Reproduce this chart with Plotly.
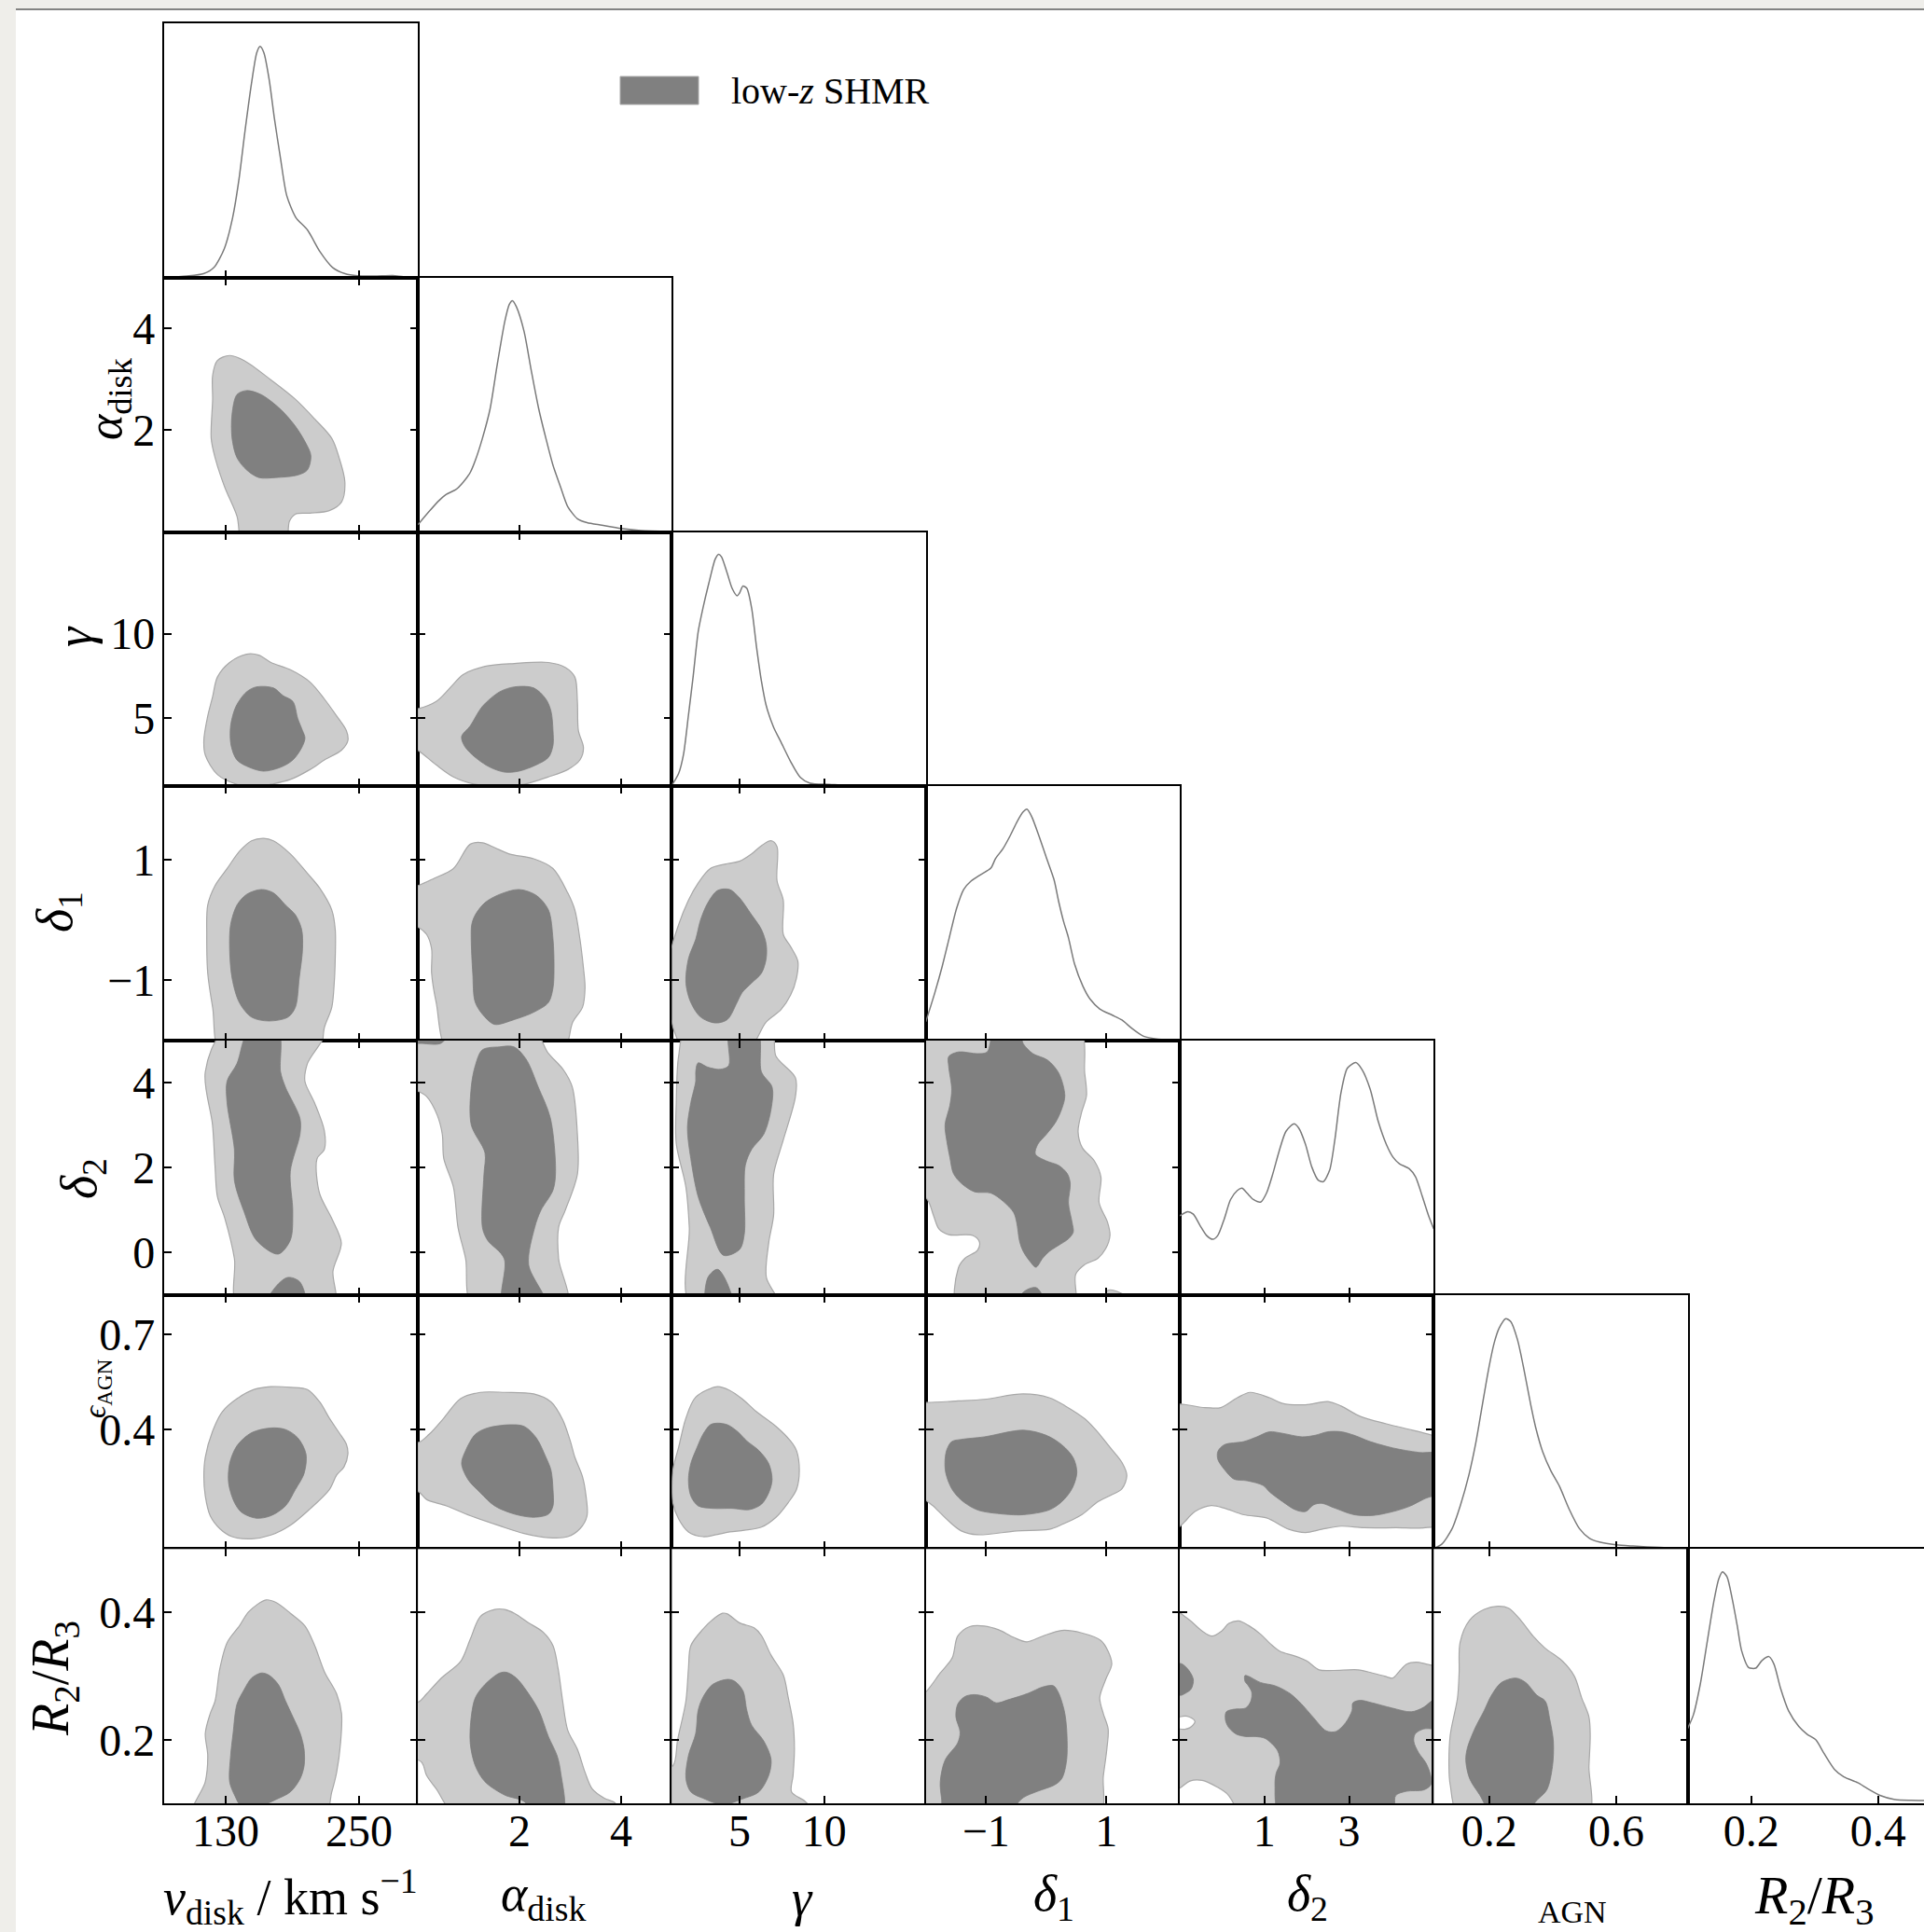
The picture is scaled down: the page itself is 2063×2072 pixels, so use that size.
import plotly.graph_objects as go

W, H = 2063, 2072
FONT = "Liberation Serif, DejaVu Serif, serif"

# ---------------- axes data ----------------
PARAMS = ["vdisk", "alpha", "gamma", "delta1", "delta2", "eps", "r23"]
RANGES = [[74.5, 303], [0, 5], [1, 16], [-2, 2.22], [-1, 5], [0.025, 0.825], [0.1, 0.5]]
XTICKS = [[130, 250], [2, 4], [5, 10], [-1, 1], [1, 3], [0.2, 0.6], [0.2, 0.4]]
YTICKS = [None, [2, 4], [5, 10], [-1, 1], [0, 2, 4], [0.4, 0.7], [0.2, 0.4]]
XLABELS = ["<i>v</i><sub>disk</sub> / km s<sup>−1</sup>", "<i>α</i><sub>disk</sub>", "<i>γ</i>",
           "<i>δ</i><sub>1</sub>", "<i>δ</i><sub>2</sub>", "AGN", "<i>R</i><sub>2</sub>/<i>R</i><sub>3</sub>"]
YLABELS = [None, "<i>α</i><sub>disk</sub>", "<i>γ</i>", "<i>δ</i><sub>1</sub>", "<i>δ</i><sub>2</sub>",
           "<i>ϵ</i><sub>AGN</sub>", "<i>R</i><sub>2</sub>/<i>R</i><sub>3</sub>"]
LEGEND_LABEL = "low-<i>z</i> SHMR"

# ---------------- 1D marginal densities (x, relative density) ----------------
kde_vdisk = [(74.5,0.001),(95.1,0.007),(110.1,0.017),(119.5,0.044),(128.8,0.125),(136.3,0.259),(141.9,0.420),
             (147.5,0.634),(153.2,0.835),(158.0,0.969),(161.0,0.996),(164.4,0.969),(169.3,0.849),(173.8,0.688),
             (179.4,0.513),(185.0,0.353),(193.2,0.259),(203.7,0.205),(215.0,0.111),(226.2,0.044),(237.4,0.017),
             (248.7,0.008),(263.7,0.007),(280.5,0.009),(289.9,0.004),(303.0,0.001)]
kde_alpha = [(0.0,0.031),(0.22,0.088),(0.41,0.134),(0.56,0.162),(0.75,0.183),(0.89,0.214),(1.03,0.256),(1.13,0.308),
             (1.27,0.403),(1.42,0.529),(1.56,0.718),(1.71,0.906),(1.80,0.980),(1.86,0.996),(1.94,0.969),(2.09,0.864),
             (2.23,0.697),(2.38,0.529),(2.52,0.403),(2.66,0.287),(2.81,0.193),(2.95,0.109),(3.14,0.057),(3.33,0.040),
             (3.62,0.029),(4.00,0.015),(4.39,0.006),(5.0,0.002)]
kde_gamma = [(1.0,0.004),(1.40,0.055),(1.69,0.138),(1.98,0.306),(2.26,0.474),(2.55,0.663),(2.84,0.768),(3.18,0.873),
             (3.56,0.978),(3.76,0.999),(3.93,0.988),(4.28,0.915),(4.56,0.852),(4.85,0.820),(4.99,0.831),(5.20,0.862),
             (5.43,0.852),(5.71,0.768),(6.00,0.600),(6.29,0.453),(6.57,0.348),(7.01,0.254),(7.44,0.191),(8.01,0.107),
             (8.59,0.038),(9.16,0.013),(10.31,0.008),(11.75,0.002),(16.0,0.0)]
kde_delta1 = [(-2.0,0.081),(-1.85,0.206),(-1.73,0.317),(-1.61,0.443),(-1.49,0.568),(-1.37,0.651),(-1.25,0.686),
              (-1.09,0.714),(-0.92,0.742),(-0.84,0.784),(-0.72,0.825),(-0.60,0.881),(-0.48,0.944),(-0.38,0.985),
              (-0.32,0.996),(-0.24,0.964),(-0.12,0.881),(0.0,0.790),(0.13,0.693),(0.21,0.596),(0.29,0.512),
              (0.37,0.443),(0.47,0.331),(0.61,0.234),(0.73,0.178),(0.89,0.136),(1.10,0.109),(1.26,0.088),
              (1.42,0.053),(1.62,0.018),(1.86,0.006),(2.22,0.001)]
kde_delta2 = [(-1.0,0.340),(-0.81,0.358),(-0.68,0.347),(-0.52,0.298),(-0.37,0.256),(-0.22,0.239),(-0.10,0.256),
              (0.05,0.326),(0.20,0.410),(0.36,0.449),(0.47,0.459),(0.59,0.438),(0.74,0.410),(0.91,0.399),
              (1.05,0.438),(1.20,0.522),(1.35,0.620),(1.51,0.704),(1.70,0.736),(1.81,0.718),(1.97,0.648),
              (2.12,0.550),(2.27,0.494),(2.39,0.487),(2.54,0.536),(2.66,0.662),(2.81,0.871),(2.96,0.976),
              (3.16,1.0),(3.31,0.969),(3.50,0.885),(3.69,0.746),(3.88,0.648),(4.04,0.592),(4.19,0.564),
              (4.42,0.543),(4.57,0.508),(4.73,0.424),(4.88,0.340),(5.0,0.284)]
kde_eps = [(0.025,0.003),(0.051,0.022),(0.083,0.088),(0.109,0.188),(0.136,0.320),(0.157,0.453),(0.178,0.619),
           (0.197,0.768),(0.215,0.885),(0.231,0.951),(0.252,0.992),(0.268,0.979),(0.289,0.901),(0.310,0.768),
           (0.331,0.619),(0.347,0.519),(0.368,0.420),(0.394,0.337),(0.421,0.271),(0.452,0.171),(0.484,0.088),
           (0.516,0.046),(0.547,0.030),(0.600,0.018),(0.653,0.013),(0.737,0.007),(0.825,0.003)]
kde_r23 = [(0.100,0.323),(0.109,0.381),(0.120,0.515),(0.130,0.682),(0.141,0.866),(0.149,0.967),(0.155,0.997),
           (0.162,0.975),(0.170,0.883),(0.178,0.766),(0.185,0.657),(0.196,0.585),(0.207,0.582),(0.217,0.615),
           (0.228,0.632),(0.236,0.599),(0.246,0.498),(0.259,0.398),(0.275,0.331),(0.288,0.298),(0.302,0.273),
           (0.315,0.214),(0.331,0.147),(0.346,0.114),(0.368,0.089),(0.383,0.064),(0.404,0.033),(0.425,0.017),
           (0.452,0.013),(0.472,0.012),(0.5,0.010)]
KDES = [kde_vdisk, kde_alpha, kde_gamma, kde_delta1, kde_delta2, kde_eps, kde_r23]
KDE_TOP = 1.095

# ---------------- 2D credible-region outlines (x, y) ----------------
# row alpha
a_v_95 = [(122.6,3.37),(133.6,3.47),(146.7,3.37),(170.8,2.99),(192.7,2.61),(210.2,2.22),(225.5,1.84),(232.1,1.46),
          (237.3,0.98),(234.3,0.59),(223.3,0.42),(205.8,0.37),(192.7,0.35),(187.4,0.21),(183.0,-0.36),(146.7,-0.36),
          (140.2,0.31),(129.2,0.88),(120.5,1.46),(117.0,1.84),(118.3,2.61),(118.3,3.08)]
a_v_68 = [(140.2,2.70),(148.9,2.78),(162.0,2.70),(179.5,2.41),(192.7,2.08),(202.3,1.74),(206.7,1.50),(203.6,1.22),
          (194.9,1.12),(175.2,1.07),(159.9,1.07),(148.9,1.22),(140.2,1.46),(135.8,1.84),(135.8,2.32)]
# row gamma
g_v_95 = [(133.6,8.30),(148.9,8.79),(159.9,8.73),(170.8,8.30),(188.3,7.87),(205.8,7.15),(218.9,6.14),(229.9,5.14),
          (238.6,4.28),(240.0,3.70),(234.3,3.13),(218.9,2.55),(205.8,1.98),(188.3,1.40),(170.8,1.11),(157.7,0.97),
          (140.2,1.11),(122.6,1.69),(111.7,2.84),(110.4,3.70),(113.9,5.14),(118.3,6.29),(122.6,7.44)]
g_v_68 = [(148.9,6.57),(157.7,6.86),(173.0,6.80),(181.7,6.34),(190.5,6.00),(194.9,4.99),(199.2,4.28),(201.4,3.84),
          (198.4,3.27),(190.5,2.55),(179.5,2.12),(164.2,1.89),(151.1,2.12),(140.2,2.55),(134.9,3.41),(134.5,4.56),
          (139.3,5.71)]
g_a_95 = [(-0.31,5.48),(0.0,5.57),(0.36,6.00),(0.65,6.86),(0.89,7.58),(1.32,8.07),(1.90,8.24),(2.57,8.30),(2.90,8.01),
          (3.09,7.44),(3.14,6.00),(3.16,4.28),(3.26,3.27),(3.19,2.55),(2.95,1.98),(2.57,1.55),(2.09,1.11),(1.71,0.97),
          (1.13,1.11),(0.70,1.55),(0.36,2.26),(0.0,3.13),(-0.31,3.70)]
g_a_68 = [(0.86,3.93),(1.03,4.56),(1.27,5.71),(1.61,6.57),(1.90,6.86),(2.28,6.80),(2.52,6.14),(2.62,5.43),(2.66,4.28),
          (2.66,3.41),(2.57,2.70),(2.33,2.26),(1.99,1.89),(1.71,1.83),(1.42,2.12),(1.13,2.70),(0.92,3.36)]
# row delta1
d1_v_95 = [(164.2,1.355),(173.0,1.315),(188.3,1.096),(203.6,0.773),(214.6,0.530),(225.5,0.167),(228.6,-0.157),
           (228.6,-0.642),(227.7,-1.046),(225.5,-1.450),(219.0,-1.773),(212.4,-2.26),(127.0,-2.26),(118.3,-1.450),
           (113.9,-0.884),(113.0,-0.237),(113.9,0.247),(120.5,0.571),(131.4,0.854),(142.3,1.137),(153.3,1.315)]
d1_v_68 = [(162.0,0.506),(173.0,0.450),(183.9,0.247),(192.7,0.086),(198.4,-0.157),(199.2,-0.480),(196.2,-0.965),
           (192.7,-1.450),(186.1,-1.612),(168.6,-1.676),(153.3,-1.612),(142.3,-1.369),(135.8,-0.965),(133.6,-0.480),
           (134.5,-0.076),(140.2,0.247),(148.9,0.425)]
d1_a_95 = [(-0.40,0.489),(0.0,0.571),(0.32,0.692),(0.70,0.854),(1.03,1.258),(1.27,1.282),(1.51,1.201),(1.80,1.096),
           (2.28,1.016),(2.66,0.854),(2.95,0.450),(3.09,0.167),(3.19,-0.318),(3.26,-0.803),(3.29,-1.127),(3.24,-1.450),
           (3.05,-1.693),(2.81,-2.26),(0.65,-2.26),(0.36,-1.369),(0.27,-0.884),(0.27,-0.480),(0.17,-0.237),
           (0.0,-0.116),(-0.40,0.005)]
d1_a_68 = [(1.13,0.086),(1.32,0.288),(1.61,0.425),(1.99,0.506),(2.33,0.409),(2.57,0.167),(2.66,-0.318),(2.68,-0.803),
           (2.66,-1.127),(2.57,-1.369),(2.28,-1.531),(1.90,-1.652),(1.51,-1.733),(1.32,-1.612),(1.13,-1.369),
           (1.08,-0.884),(1.05,-0.318),(1.06,-0.076)]
d1_g_95 = [(6.86,1.315),(7.21,1.218),(7.21,0.652),(7.58,0.328),(7.58,-0.237),(8.01,-0.440),(8.44,-0.682),(8.36,-0.965),
           (8.01,-1.248),(7.44,-1.490),(6.57,-1.693),(5.43,-2.18),(1.98,-2.26),(1.26,-1.935),(0.83,-1.450),
           (0.83,-0.642),(1.40,-0.076),(1.98,0.328),(2.55,0.611),(3.27,0.854),(4.28,0.935),(5.0,0.975),(5.71,1.096),
           (6.29,1.234)]
d1_g_68 = [(3.70,0.490),(4.42,0.506),(4.99,0.369),(5.71,0.086),(6.29,-0.157),(6.57,-0.399),(6.57,-0.642),(6.29,-0.884),
           (5.71,-1.046),(5.14,-1.208),(4.85,-1.369),(4.28,-1.652),(3.56,-1.709),(2.70,-1.612),(2.12,-1.369),
           (1.83,-1.046),(1.98,-0.642),(2.41,-0.318),(2.70,0.005),(3.13,0.288)]
# row delta2
d2_v_95 = [(129.2,5.22),(111.7,4.26),(118.2,3.01),(120.4,2.06),(122.6,1.32),(129.2,0.81),(137.9,-0.15),(141.0,-1.25),
           (227.5,-1.25),(226.6,-0.44),(234.1,0.22),(225.3,0.81),(214.4,1.40),(212.2,2.21),(218.8,2.43),(218.8,2.87),
           (210.0,3.53),(201.3,4.04),(203.5,4.45),(218.8,5.22)]
d2_v_68 = [(151.0,5.22),(140.1,4.45),(131.3,4.04),(131.3,3.53),(137.9,2.43),(137.9,1.69),(146.6,0.96),(157.6,0.29),
           (177.2,-0.04),(188.2,0.29),(190.4,0.96),(188.2,1.91),(196.9,2.79),(196.9,3.16),(183.8,3.90),(179.4,4.26),
           (177.2,5.22)]
d2_v_68b = [(166.3,-1.25),(175.1,-0.81),(186.0,-0.59),(196.9,-0.70),(201.3,-1.25)]
d2_a_95 = [(-0.50,5.22),(-0.31,4.04),(0.17,3.68),(0.38,3.24),(0.48,2.79),(0.51,2.21),(0.70,1.54),(0.79,0.59),
           (0.94,-0.15),(1.08,-1.25),(2.93,-1.25),(2.77,-0.15),(2.77,0.59),(2.90,0.99),(3.14,1.84),(3.14,2.79),
           (3.04,3.90),(2.87,4.30),(2.56,4.71),(2.28,5.22)]
d2_a_68 = [(1.61,4.85),(1.27,4.78),(1.13,4.41),(1.05,3.90),(1.05,3.01),(1.32,2.35),(1.30,1.84),(1.27,0.59),(1.37,0.29),
           (1.70,-0.15),(1.68,-1.25),(2.52,-1.25),(2.18,-0.29),(2.30,0.59),(2.42,0.99),(2.66,1.47),(2.71,1.91),
           (2.61,3.16),(2.37,3.90),(2.13,4.56),(1.89,4.85)]
d2_a_68b = [(-0.21,5.29),(0.65,5.29),(0.46,4.94),(0.08,4.93),(-0.21,4.96)]
d2_g_95 = [(1.83,5.22),(1.40,4.63),(1.26,3.53),(1.26,2.57),(1.83,1.54),(2.03,0.59),(2.12,-1.25),(7.29,-1.25),
           (6.58,-0.59),(6.72,0.22),(7.01,0.88),(7.01,1.84),(7.58,2.65),(8.30,3.68),(8.30,4.12),(7.15,4.63),(6.86,5.22)]
d2_g_68 = [(4.42,5.22),(4.36,4.41),(3.85,4.32),(3.13,4.37),(2.55,4.47),(2.41,4.26),(2.41,4.04),(2.12,3.53),(1.92,2.94),
           (2.12,2.21),(2.55,1.32),(3.27,0.59),(4.05,-0.07),(5.00,0.07),(5.28,0.44),(5.28,1.32),(5.34,2.06),(5.71,2.43),
           (6.43,2.79),(6.86,3.38),(6.92,3.90),(6.29,4.26),(6.06,5.22)]
d2_g_68b = [(3.07,-1.25),(3.13,-0.59),(3.70,-0.40),(4.28,-0.74),(4.56,-1.25)]
d2_d1_95 = [(-2.22,5.31),(0.53,5.31),(0.64,4.23),(0.67,3.70),(0.59,3.31),(0.53,2.85),(0.60,2.47),(0.80,2.16),
            (0.91,1.78),(0.88,1.17),(1.02,0.71),(1.06,0.40),(0.99,0.09),(0.86,-0.14),(0.64,-0.29),(0.49,-0.52),
            (0.45,-1.36),(-1.46,-1.36),(-1.46,-0.37),(-1.35,-0.14),(-1.14,0.05),(-1.11,0.25),(-1.22,0.40),
            (-1.62,0.42),(-1.78,0.55),(-1.87,0.86),(-1.97,1.24),(-2.22,1.55)]
d2_d1_95b = [(0.99,-1.36),(1.02,-0.90),(1.18,-0.92),(1.32,-1.06),(1.32,-1.36)]
d2_d1_68 = [(-1.62,4.39),(-1.62,4.62),(-1.46,4.73),(-1.14,4.69),(-0.98,4.73),(-0.87,5.15),(-0.44,5.15),(-0.38,4.92),
            (-0.22,4.69),(0.02,4.54),(0.21,4.23),(0.31,3.70),(0.26,3.39),(0.16,3.08),(0.00,2.78),(-0.14,2.55),
            (-0.18,2.32),(0.00,2.16),(0.21,2.05),(0.35,1.86),(0.40,1.63),(0.37,1.17),(0.43,0.71),(0.45,0.48),
            (0.37,0.32),(0.21,0.17),(0.05,0.02),(-0.06,-0.14),(-0.17,-0.35),(-0.27,-0.21),(-0.38,0.02),(-0.44,0.25),
            (-0.49,0.71),(-0.54,0.94),(-0.71,1.20),(-0.92,1.40),(-1.19,1.43),(-1.41,1.63),(-1.54,1.86),(-1.60,2.24),
            (-1.65,2.62),(-1.68,3.01),(-1.60,3.47),(-1.57,3.85)]
d2_d1_68b = [(-0.49,-1.36),(-0.38,-0.94),(-0.17,-0.83),(-0.05,-1.06),(-0.03,-1.36)]
# row eps
e_v_95 = [(170.8,0.536),(188.3,0.534),(203.6,0.527),(214.6,0.488),(223.3,0.437),(232.1,0.391),(238.6,0.355),
          (240.0,0.324),(236.4,0.283),(229.9,0.258),(223.3,0.212),(205.8,0.151),(188.3,0.100),(170.8,0.069),
          (153.3,0.057),(135.8,0.064),(124.8,0.089),(116.1,0.130),(111.7,0.192),(110.4,0.253),(111.7,0.314),
          (118.3,0.396),(127.0,0.457),(140.2,0.498),(155.5,0.527)]
e_v_68 = [(170.8,0.406),(183.9,0.401),(194.9,0.375),(202.3,0.324),(200.6,0.263),(192.7,0.212),(183.9,0.161),
          (170.8,0.130),(157.7,0.122),(144.5,0.140),(138.0,0.171),(132.7,0.232),(133.6,0.294),(140.2,0.350),
          (153.3,0.391)]
e_a_95 = [(-0.31,0.375),(0.0,0.360),(0.22,0.386),(0.51,0.437),(0.84,0.498),(1.23,0.518),(1.71,0.518),(2.28,0.513),
          (2.62,0.488),(2.85,0.432),(3.00,0.365),(3.09,0.314),(3.24,0.253),(3.31,0.192),(3.33,0.130),(3.19,0.089),
          (2.95,0.064),(2.57,0.061),(2.09,0.074),(1.61,0.098),(1.03,0.130),(0.56,0.161),(0.17,0.181),(0.0,0.207),
          (-0.31,0.212)]
e_a_68 = [(1.13,0.386),(1.37,0.406),(1.80,0.416),(2.09,0.411),(2.33,0.375),(2.52,0.314),(2.62,0.273),(2.66,0.212),
          (2.66,0.161),(2.57,0.135),(2.28,0.125),(1.90,0.135),(1.51,0.161),(1.23,0.202),(0.99,0.243),(0.86,0.294),
          (0.94,0.335)]
e_g_95 = [(3.70,0.536),(4.42,0.524),(5.14,0.498),(6.00,0.457),(7.15,0.411),(8.01,0.365),(8.36,0.335),(8.53,0.273),
          (8.36,0.212),(7.87,0.171),(7.15,0.125),(6.29,0.094),(5.28,0.084),(4.42,0.079),(3.70,0.071),(2.84,0.064),
          (1.98,0.079),(1.40,0.120),(1.06,0.171),(1.06,0.273),(1.40,0.345),(1.83,0.437),(2.41,0.503)]
e_g_68 = [(3.70,0.421),(4.28,0.416),(4.85,0.396),(5.43,0.365),(6.14,0.335),(6.72,0.294),(6.92,0.243),(6.72,0.202),
          (6.29,0.166),(5.57,0.149),(4.56,0.153),(3.41,0.153),(2.55,0.161),(2.12,0.192),(1.98,0.243),(2.12,0.294),
          (2.49,0.345),(2.84,0.386),(3.27,0.416)]
e_d1_95 = [(-1.97,0.486),(-1.46,0.491),(-1.03,0.496),(-0.38,0.513),(0.05,0.501),(0.32,0.475),(0.64,0.435),
           (0.83,0.399),(1.07,0.343),(1.26,0.297),(1.34,0.256),(1.26,0.215),(1.07,0.194),(0.86,0.174),(0.59,0.133),
           (0.26,0.102),(0.05,0.087),(-0.49,0.082),(-1.14,0.070),(-1.41,0.082),(-1.62,0.113),(-1.84,0.154),
           (-2.16,0.215),(-2.16,0.486)]
e_d1_68 = [(-1.68,0.307),(-1.65,0.338),(-1.57,0.363),(-1.41,0.370),(-1.03,0.378),(-0.38,0.399),(0.00,0.383),
           (0.26,0.353),(0.45,0.312),(0.51,0.266),(0.43,0.215),(0.26,0.174),(0.05,0.148),(-0.38,0.133),(-0.71,0.135),
           (-1.14,0.148),(-1.41,0.179),(-1.57,0.215),(-1.67,0.266)]
e_d2_95 = [(-1.25,0.472),(-0.41,0.470),(-0.03,0.470),(0.36,0.501),(0.66,0.518),(1.12,0.501),(1.43,0.483),(1.97,0.479),
           (2.50,0.489),(2.81,0.475),(3.27,0.442),(3.88,0.419),(4.50,0.399),(4.96,0.383),(5.42,0.358),(5.42,0.113),
           (4.80,0.092),(4.11,0.092),(3.35,0.092),(2.81,0.097),(2.35,0.087),(1.97,0.077),(1.58,0.087),(1.05,0.123),
           (0.51,0.133),(0.05,0.154),(-0.26,0.162),(-0.64,0.143),(-0.95,0.102),(-1.25,0.072)]
e_d2_68 = [(-0.10,0.332),(0.05,0.353),(0.51,0.363),(0.82,0.378),(1.12,0.394),(1.43,0.389),(1.89,0.378),(2.20,0.383),
           (2.50,0.394),(2.81,0.394),(3.12,0.383),(3.50,0.363),(4.04,0.343),(4.65,0.329),(5.42,0.322),(5.42,0.217),
           (4.80,0.184),(4.42,0.159),(4.04,0.143),(3.58,0.131),(3.12,0.133),(2.66,0.154),(2.35,0.169),(2.16,0.164),
           (1.97,0.143),(1.74,0.148),(1.43,0.174),(1.12,0.205),(0.97,0.225),(0.59,0.240),(0.28,0.245),(0.05,0.276),
           (-0.10,0.307)]
# row R2/R3
r_v_95 = [(166.4,0.420),(175.2,0.416),(188.3,0.399),(201.4,0.379),(210.2,0.348),(218.9,0.307),(229.9,0.272),
          (234.3,0.241),(233.4,0.195),(229.9,0.149),(225.5,0.118),(218.9,0.083),(100.8,0.083),(111.7,0.134),
          (113.9,0.175),(111.7,0.210),(116.1,0.241),(120.5,0.261),(124.8,0.312),(131.4,0.353),(142.3,0.379),
          (151.1,0.402)]
r_v_68 = [(162.0,0.305),(168.6,0.302),(177.4,0.287),(183.9,0.261),(190.5,0.236),(197.1,0.210),(200.6,0.185),
          (200.6,0.159),(197.1,0.139),(188.3,0.118),(175.2,0.106),(159.9,0.095),(144.5,0.095),(138.0,0.113),
          (133.6,0.134),(134.5,0.175),(136.7,0.210),(140.2,0.256),(146.7,0.279),(153.3,0.297)]
r_a_95 = [(-0.31,0.261),(0.0,0.259),(0.17,0.272),(0.46,0.297),(0.84,0.323),(1.03,0.358),(1.23,0.394),(1.51,0.405),
          (1.71,0.405),(1.90,0.399),(2.18,0.384),(2.47,0.369),(2.66,0.348),(2.76,0.312),(2.85,0.261),(2.95,0.215),
          (3.14,0.185),(3.29,0.149),(3.43,0.123),(3.67,0.108),(3.89,0.100),(3.91,0.083),(0.75,0.083),(0.36,0.123),
          (0.17,0.144),(0.08,0.164),(-0.31,0.185)]
r_a_68 = [(1.61,0.305),(1.75,0.306),(1.94,0.297),(2.14,0.277),(2.38,0.246),(2.57,0.205),(2.74,0.175),(2.81,0.149),
          (2.85,0.083),(2.28,0.083),(2.09,0.103),(1.71,0.113),(1.32,0.134),(1.13,0.159),(1.03,0.195),(1.05,0.236),
          (1.13,0.266),(1.32,0.287)]
r_g_95 = [(3.99,0.399),(4.28,0.398),(4.99,0.384),(5.86,0.376),(6.29,0.364),(6.86,0.333),(7.58,0.302),(7.87,0.267),
          (8.16,0.226),(8.24,0.185),(8.16,0.144),(8.07,0.118),(8.87,0.103),(9.45,0.083),(-0.03,0.083),(-0.03,0.149),
          (1.06,0.159),(1.34,0.200),(1.83,0.261),(1.98,0.312),(2.12,0.348),(2.84,0.374),(3.41,0.389)]
r_g_68 = [(4.28,0.295),(4.71,0.292),(5.20,0.277),(5.43,0.246),(5.71,0.223),(6.43,0.198),(6.86,0.169),(6.72,0.144),
          (6.14,0.118),(5.28,0.108),(3.99,0.098),(2.84,0.108),(2.12,0.118),(1.83,0.139),(1.98,0.175),(2.41,0.210),
          (2.55,0.246),(2.84,0.267),(3.41,0.287)]
r_d1_95 = [(-2.24,0.256),(-2.0,0.275),(-1.76,0.305),(-1.56,0.329),(-1.47,0.363),(-1.27,0.378),(-1.03,0.379),
           (-0.79,0.373),(-0.54,0.361),(-0.32,0.354),(-0.06,0.363),(0.26,0.372),(0.59,0.368),(0.91,0.356),(1.03,0.339),
           (1.09,0.319),(0.99,0.295),(0.89,0.266),(0.95,0.241),(1.03,0.217),(1.01,0.187),(0.95,0.143),(0.87,0.080),
           (-2.24,0.080)]
r_d1_68 = [(-1.68,0.080),(-1.74,0.109),(-1.76,0.134),(-1.68,0.168),(-1.47,0.195),(-1.43,0.212),(-1.50,0.236),
           (-1.47,0.256),(-1.35,0.268),(-1.19,0.271),(-0.99,0.267),(-0.83,0.258),(-0.63,0.263),(-0.30,0.273),
           (-0.06,0.283),(0.12,0.285),(0.20,0.275),(0.30,0.246),(0.34,0.217),(0.34,0.168),(0.26,0.139),(0.14,0.129),
           (-0.14,0.119),(-0.38,0.109),(-0.71,0.080)]
r_d2_95 = [(-1.51,0.427),(-1.0,0.400),(-0.76,0.388),(-0.47,0.371),(-0.24,0.363),(-0.01,0.371),(0.16,0.383),
           (0.39,0.387),(0.62,0.380),(0.91,0.366),(1.14,0.351),(1.37,0.339),(1.71,0.332),(2.00,0.324),(2.29,0.310),
           (2.63,0.309),(3.21,0.310),(3.55,0.305),(3.84,0.300),(4.03,0.297),(4.18,0.307),(4.36,0.319),(4.59,0.322),
           (4.82,0.319),(5.39,0.305),(5.39,0.080),(-1.51,0.080)]
r_d2_gap1 = [(-1.28,0.227),(-1.0,0.236),(-0.82,0.237),(-0.64,0.229),(-0.76,0.219),(-1.0,0.217)]
r_d2_gap2 = [(-1.28,0.119),(-1.0,0.124),(-0.76,0.135),(-0.47,0.136),(-0.13,0.126),(0.16,0.112),(0.33,0.080),
             (-1.28,0.080)]
r_d2_68 = [(0.54,0.301),(0.62,0.300),(0.91,0.290),(1.25,0.285),(1.60,0.273),(1.88,0.256),(2.17,0.234),(2.46,0.214),
           (2.69,0.213),(2.92,0.227),(3.07,0.246),(3.09,0.258),(3.26,0.262),(3.55,0.258),(4.01,0.250),(4.47,0.244),
           (4.76,0.251),(5.0,0.263),(5.39,0.270),(5.39,0.214),(5.0,0.217),(4.76,0.217),(4.56,0.209),(4.53,0.197),
           (4.64,0.180),(4.82,0.163),(4.93,0.143),(4.93,0.129),(4.76,0.121),(4.36,0.119),(4.10,0.112),(4.03,0.080),
           (1.39,0.080),(1.25,0.129),(1.28,0.148),(1.37,0.163),(1.31,0.183),(1.02,0.202),(0.79,0.205),(0.56,0.205),
           (0.33,0.209),(0.16,0.219),(0.08,0.231),(0.10,0.244),(0.28,0.248),(0.56,0.250),(0.68,0.261),(0.70,0.275),
           (0.62,0.285),(0.54,0.292)]
r_d2_68b = [(-1.28,0.295),(-1.0,0.320),(-0.82,0.312),(-0.68,0.295),(-0.73,0.280),(-0.87,0.273),(-1.0,0.270)]
r_e_95 = [(0.227,0.410),(0.261,0.407),(0.299,0.388),(0.338,0.363),(0.376,0.344),(0.430,0.324),(0.468,0.300),
          (0.491,0.266),(0.514,0.236),(0.518,0.207),(0.514,0.158),(0.509,0.080),(0.108,0.080),(0.077,0.129),
          (0.073,0.158),(0.077,0.207),(0.100,0.266),(0.105,0.305),(0.108,0.353),(0.138,0.388),(0.184,0.405)]
r_e_68 = [(0.284,0.297),(0.315,0.290),(0.350,0.270),(0.376,0.261),(0.391,0.231),(0.402,0.197),(0.399,0.158),
          (0.381,0.121),(0.345,0.102),(0.322,0.080),(0.215,0.080),(0.169,0.114),(0.138,0.139),(0.126,0.168),
          (0.131,0.187),(0.154,0.217),(0.184,0.246),(0.207,0.270),(0.238,0.290)]

# (row, col) -> list of (outline, level); level "95" light, "68" dark, "gap" empty
PANELS = {
    (1, 0): [(a_v_95, "95"), (a_v_68, "68")],
    (2, 0): [(g_v_95, "95"), (g_v_68, "68")],
    (2, 1): [(g_a_95, "95"), (g_a_68, "68")],
    (3, 0): [(d1_v_95, "95"), (d1_v_68, "68")],
    (3, 1): [(d1_a_95, "95"), (d1_a_68, "68")],
    (3, 2): [(d1_g_95, "95"), (d1_g_68, "68")],
    (4, 0): [(d2_v_95, "95"), (d2_v_68, "68"), (d2_v_68b, "68")],
    (4, 1): [(d2_a_95, "95"), (d2_a_68, "68"), (d2_a_68b, "68")],
    (4, 2): [(d2_g_95, "95"), (d2_g_68, "68"), (d2_g_68b, "68")],
    (4, 3): [(d2_d1_95, "95"), (d2_d1_95b, "95"), (d2_d1_68, "68"), (d2_d1_68b, "68")],
    (5, 0): [(e_v_95, "95"), (e_v_68, "68")],
    (5, 1): [(e_a_95, "95"), (e_a_68, "68")],
    (5, 2): [(e_g_95, "95"), (e_g_68, "68")],
    (5, 3): [(e_d1_95, "95"), (e_d1_68, "68")],
    (5, 4): [(e_d2_95, "95"), (e_d2_68, "68")],
    (6, 0): [(r_v_95, "95"), (r_v_68, "68")],
    (6, 1): [(r_a_95, "95"), (r_a_68, "68")],
    (6, 2): [(r_g_95, "95"), (r_g_68, "68")],
    (6, 3): [(r_d1_95, "95"), (r_d1_68, "68")],
    (6, 4): [(r_d2_95, "95"), (r_d2_gap1, "gap"), (r_d2_gap2, "gap"), (r_d2_68, "68"), (r_d2_68b, "68")],
    (6, 5): [(r_e_95, "95"), (r_e_68, "68")],
}

# ---------------- styling / geometry ----------------
COL_X0, COL_W = 175.8, 272.3
ROW_Y0, ROW_H = 25.1, 272.7
STYLE = {"95": ("#cccccc", "#a8a8a8", 1.2), "68": ("#808080", "#7d7d7d", 0.8), "gap": ("white", "#a8a8a8", 1.2)}
PAGE_BG = "#efeeea"

fig = go.Figure()
layout = dict(width=W, height=H, margin=dict(l=0, r=0, t=0, b=0, pad=0), autosize=False,
              paper_bgcolor=PAGE_BG, plot_bgcolor="white", showlegend=False,
              font=dict(family=FONT, color="black"))

base_axis = dict(showline=True, linecolor="black", linewidth=2, ticks="inside", ticklen=8, tickwidth=2,
                 tickcolor="black", showgrid=False, zeroline=False,
                 tickfont=dict(family=FONT, size=48, color="black"))

k = 0
for i in range(7):
    for j in range(i + 1):
        k += 1
        xa, ya = ("xaxis", "yaxis") if k == 1 else (f"xaxis{k}", f"yaxis{k}")
        xr, yr = ("x", "y") if k == 1 else (f"x{k}", f"y{k}")
        left = COL_X0 + j * COL_W
        right = left + COL_W
        top = ROW_Y0 + i * ROW_H
        bot = top + ROW_H
        xrng = list(RANGES[j])
        if right > W:
            xrng[1] = xrng[0] + (xrng[1] - xrng[0]) * (W - left) / COL_W
            right = W
        xd = [left / W, right / W]
        yd = [1 - bot / H, 1 - top / H]
        xax = dict(base_axis, domain=xd, range=xrng, anchor=yr, tickvals=XTICKS[j],
                   showticklabels=(i == 6), ticklabelstandoff=-14)
        if i == j:
            xax["mirror"] = True
            yax = dict(showline=True, linecolor="black", linewidth=2, mirror=(j != 6), ticks="",
                       showticklabels=False, showgrid=False, zeroline=False,
                       domain=yd, range=[0, KDE_TOP], anchor=xr)
            pts = KDES[i]
            fig.add_trace(go.Scatter(x=[p[0] for p in pts], y=[p[1] for p in pts], mode="lines",
                                     line=dict(color="#7a7a7a", width=1.5, shape="spline", smoothing=0.7),
                                     xaxis=xr, yaxis=yr, hoverinfo="skip"))
        else:
            xax["mirror"] = "ticks"
            yax = dict(base_axis, domain=yd, range=RANGES[i], anchor=xr, tickvals=YTICKS[i],
                       showticklabels=(j == 0), mirror="ticks", ticklabelstandoff=-2)
            for pts, lvl in PANELS.get((i, j), []):
                fc, lc, lw = STYLE[lvl]
                xs = [p[0] for p in pts] + [pts[0][0]]
                ys = [p[1] for p in pts] + [pts[0][1]]
                fig.add_trace(go.Scatter(x=xs, y=ys, mode="lines", fill="toself", fillcolor=fc,
                                         line=dict(color=lc, width=lw, shape="spline", smoothing=0.9),
                                         xaxis=xr, yaxis=yr, hoverinfo="skip"))
        layout[xa] = xax
        layout[ya] = yax

# ---------------- labels ----------------
def px(xp):
    return xp / W

def py(yp):
    return 1 - yp / H

XLAB_POS = [(311, 2034), (582, 2034), (860, 2036), (1130, 2034), (1402, 2034), (1686, 2050), (1945, 2036)]
XLAB_SIZE = [54, 54, 54, 54, 54, 34, 58]
YLAB_POS = [None, (116, 428), (80, 683), (62, 978), (88, 1264), (104, 1489), (58, 1800)]
YLAB_SIZE = [None, 52, 54, 54, 54, 33, 56]

annotations = []
for lab, pos, sz in zip(XLABELS, XLAB_POS, XLAB_SIZE):
    annotations.append(dict(text=lab, x=px(pos[0]), y=py(pos[1]), xref="paper", yref="paper",
                            xanchor="center", yanchor="middle", showarrow=False,
                            font=dict(family=FONT, size=sz, color="black")))
for lab, pos, sz in zip(YLABELS, YLAB_POS, YLAB_SIZE):
    if lab is None:
        continue
    annotations.append(dict(text=lab, x=px(pos[0]), y=py(pos[1]), xref="paper", yref="paper",
                            xanchor="center", yanchor="middle", showarrow=False, textangle=-90,
                            font=dict(family=FONT, size=sz, color="black")))
annotations.append(dict(text=LEGEND_LABEL, x=px(782), y=py(98), xref="paper", yref="paper",
                        xanchor="left", yanchor="middle", showarrow=False,
                        font=dict(family=FONT, size=40, color="black")))

shapes = [
    dict(type="rect", xref="paper", yref="paper", x0=px(17), x1=1, y0=0, y1=py(11),
         fillcolor="white", line=dict(width=0), layer="below"),
    dict(type="line", xref="paper", yref="paper", x0=px(17), x1=1, y0=py(10), y1=py(10),
         line=dict(color="#5f5f5f", width=1.5)),
    dict(type="rect", xref="paper", yref="paper", x0=px(665), x1=px(749), y0=py(112), y1=py(82),
         fillcolor="#808080", line=dict(color="#a8a8a8", width=1)),
]

layout["annotations"] = annotations
layout["shapes"] = shapes
fig.update_layout(**layout)

PAGE_FIX = ("document.documentElement.style.margin='0';document.body.style.margin='0';"
            "document.body.style.padding='0';document.body.style.overflow='hidden';"
            "document.body.style.background='" + PAGE_BG + "';")
fig.write_html("out.html", post_script=PAGE_FIX,
               config={"displayModeBar": False, "staticPlot": True})
